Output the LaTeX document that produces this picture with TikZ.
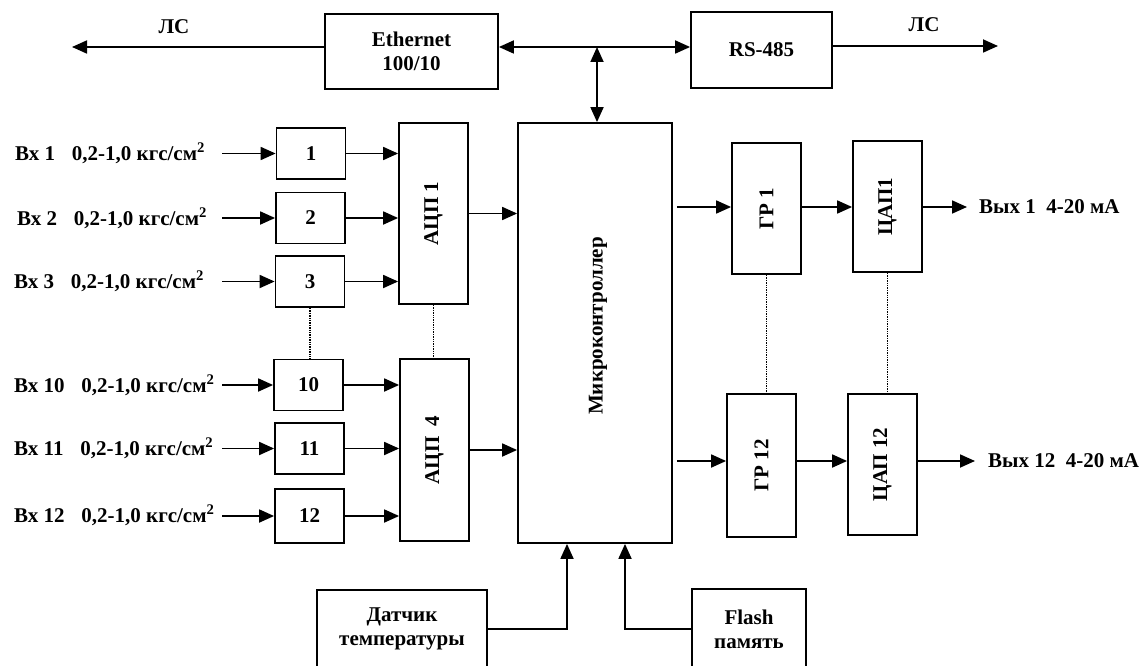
\documentclass[tikz,border=0pt]{standalone}
\usepackage{fontspec}
\setmainfont{Liberation Serif}
\usepackage{tikz}
\usetikzlibrary{arrows.meta,positioning}

\begin{document}
\begin{tikzpicture}[x=1pt, y=-1pt, auto, font=\fontsize{21}{24}\selectfont\bfseries]
    % Styles
    \tikzstyle{block} = [rectangle, draw, line width=1.8pt, inner sep=0pt, align=center]
    \tikzstyle{vtext} = [inner sep=0pt, rotate=90]
    \tikzstyle{tag} = [inner sep=0pt, anchor=west]
    \tikzstyle{line} = [draw, line width=1.8pt, -{Triangle[length=15pt,width=13pt]}]
    \tikzstyle{dline} = [draw, line width=1.8pt, {Triangle[length=15pt,width=13pt]}-{Triangle[length=15pt,width=13pt]}]
    \tikzstyle{gap} = [draw, line width=1.4pt, densely dotted]

    \useasboundingbox (0,0) rectangle (1140,666);

    % Network
    \node [block, minimum width=173pt, minimum height=75pt] (eth) at (411.5,51.5) {Ethernet\\100/10};
    \node [block, minimum width=141pt, minimum height=76pt] (rs) at (761.5,50) {RS-485};
    \coordinate (bus) at (597,47);
    \coordinate (lsL) at (72,47);
    \coordinate (lsR) at (998,46);
    \node (lsl) at (174,27) {ЛС};
    \node (lsr) at (924,25) {ЛС};

    % Controller
    \node [block, minimum width=154pt, minimum height=420pt] (mcu) at (595,333) {};
    \node [vtext] (mcut) at (598,326) {Микроконтроллер};

    % ADCs
    \node [block, minimum width=69pt, minimum height=181pt] (adc1) at (433.5,213.5) {};
    \node [vtext] (adc1t) at (adc1) {АЦП 1};
    \node [block, minimum width=69pt, minimum height=182pt] (adc4) at (434.5,450) {};
    \node [vtext] (adc4t) at (adc4) {АЦП\ \ 4};

    % Input channels
    \node [block, minimum width=69pt, minimum height=51pt] (s1) at (311,153.5) {1};
    \node [block, minimum width=69pt, minimum height=51pt] (s2) at (310.5,218) {2};
    \node [block, minimum width=69pt, minimum height=51pt] (s3) at (310,281.5) {3};
    \node [block, minimum width=69pt, minimum height=51pt] (s10) at (308.5,385) {10};
    \node [block, minimum width=69pt, minimum height=51pt] (s11) at (309.5,448.5) {11};
    \node [block, minimum width=69pt, minimum height=54pt] (s12) at (309.5,516) {12};

    \node [tag] (in1) at (15,153.5) {Вх 1\hspace{0.8em}0,2-1,0 кгс/см\textsuperscript{2}};
    \node [tag] (in2) at (17,218) {Вх 2\hspace{0.8em}0,2-1,0 кгс/см\textsuperscript{2}};
    \node [tag] (in3) at (14,281.5) {Вх 3\hspace{0.8em}0,2-1,0 кгс/см\textsuperscript{2}};
    \node [tag] (in10) at (14,385) {Вх 10\hspace{0.8em}0,2-1,0 кгс/см\textsuperscript{2}};
    \node [tag] (in11) at (14,448.5) {Вх 11\hspace{0.8em}0,2-1,0 кгс/см\textsuperscript{2}};
    \node [tag] (in12) at (14,515) {Вх 12\hspace{0.8em}0,2-1,0 кгс/см\textsuperscript{2}};
    \coordinate (inx) at (222,0);

    % Outputs
    \coordinate (row1) at (0,207);
    \coordinate (row12) at (0,461);
    \node [block, minimum width=69pt, minimum height=131pt] (gr1) at (766.5,208.5) {};
    \node [vtext] (gr1t) at (gr1) {ГР 1};
    \node [block, minimum width=69pt, minimum height=131pt] (dac1) at (887.5,206.5) {};
    \node [vtext] (dac1t) at (dac1) {ЦАП1};
    \node [block, minimum width=69pt, minimum height=143pt] (gr12) at (761.5,465.5) {};
    \node [vtext] (gr12t) at (gr12) {ГР 12};
    \node [block, minimum width=69pt, minimum height=141pt] (dac12) at (882.5,464.5) {};
    \node [vtext] (dac12t) at (dac12) {ЦАП 12};
    \coordinate (o1) at (967,207);
    \coordinate (o12) at (975,461);
    \node [tag] (out1) at (979,207) {Вых 1\hspace{0.5em}4-20 мА};
    \node [tag] (out12) at (988,461) {Вых 12\hspace{0.5em}4-20 мА};

    % Sensor and memory
    \node [block, minimum width=170pt, minimum height=78pt] (temp) at (402,629) {Датчик\\температуры};
    \node [block, minimum width=114pt, minimum height=80pt] (flash) at (749,629) {Flash\\память};
    \coordinate (tin) at (567,0);
    \coordinate (fin) at (625,0);

    % Edges
    \path [line] (eth.west |- bus) -- (lsL);
    \path [dline] (eth.east |- bus) -- (rs.west |- bus);
    \path [dline] (bus) -- (bus |- mcu.north);
    \path [line] (rs.east |- lsR) -- (lsR);

    \path [line] (inx |- s1) -- (s1);
    \path [line] (inx |- s2) -- (s2);
    \path [line] (inx |- s3) -- (s3);
    \path [line] (inx |- s10) -- (s10);
    \path [line] (inx |- s11) -- (s11);
    \path [line] (inx |- s12) -- (s12);
    \path [line] (s1) -- (s1 -| adc1.west);
    \path [line] (s2) -- (s2 -| adc1.west);
    \path [line] (s3) -- (s3 -| adc1.west);
    \path [line] (s10) -- (s10 -| adc4.west);
    \path [line] (s11) -- (s11 -| adc4.west);
    \path [line] (s12) -- (s12 -| adc4.west);
    \path [line] (adc1) -- (adc1 -| mcu.west);
    \path [line] (adc4) -- (adc4 -| mcu.west);

    \path [line, shorten <=4pt] (mcu.east |- row1) -- (gr1.west |- row1);
    \path [line] (gr1.east |- row1) -- (dac1.west |- row1);
    \path [line] (dac1.east |- o1) -- (o1);
    \path [line, shorten <=4pt] (mcu.east |- row12) -- (gr12.west |- row12);
    \path [line] (gr12.east |- row12) -- (dac12.west |- row12);
    \path [line] (dac12.east |- o12) -- (o12);

    \path [line] (temp.east) -| (tin |- mcu.south);
    \path [line] (flash.west) -| (fin |- mcu.south);

    \path [gap] (s3.south) -- (s3.south |- s10.north);
    \path [gap] (adc1.south) -- (adc1.south |- adc4.north);
    \path [gap] (gr1.south) -- (gr1.south |- gr12.north);
    \path [gap] (dac1.south) -- (dac1.south |- dac12.north);
\end{tikzpicture}
\end{document}
